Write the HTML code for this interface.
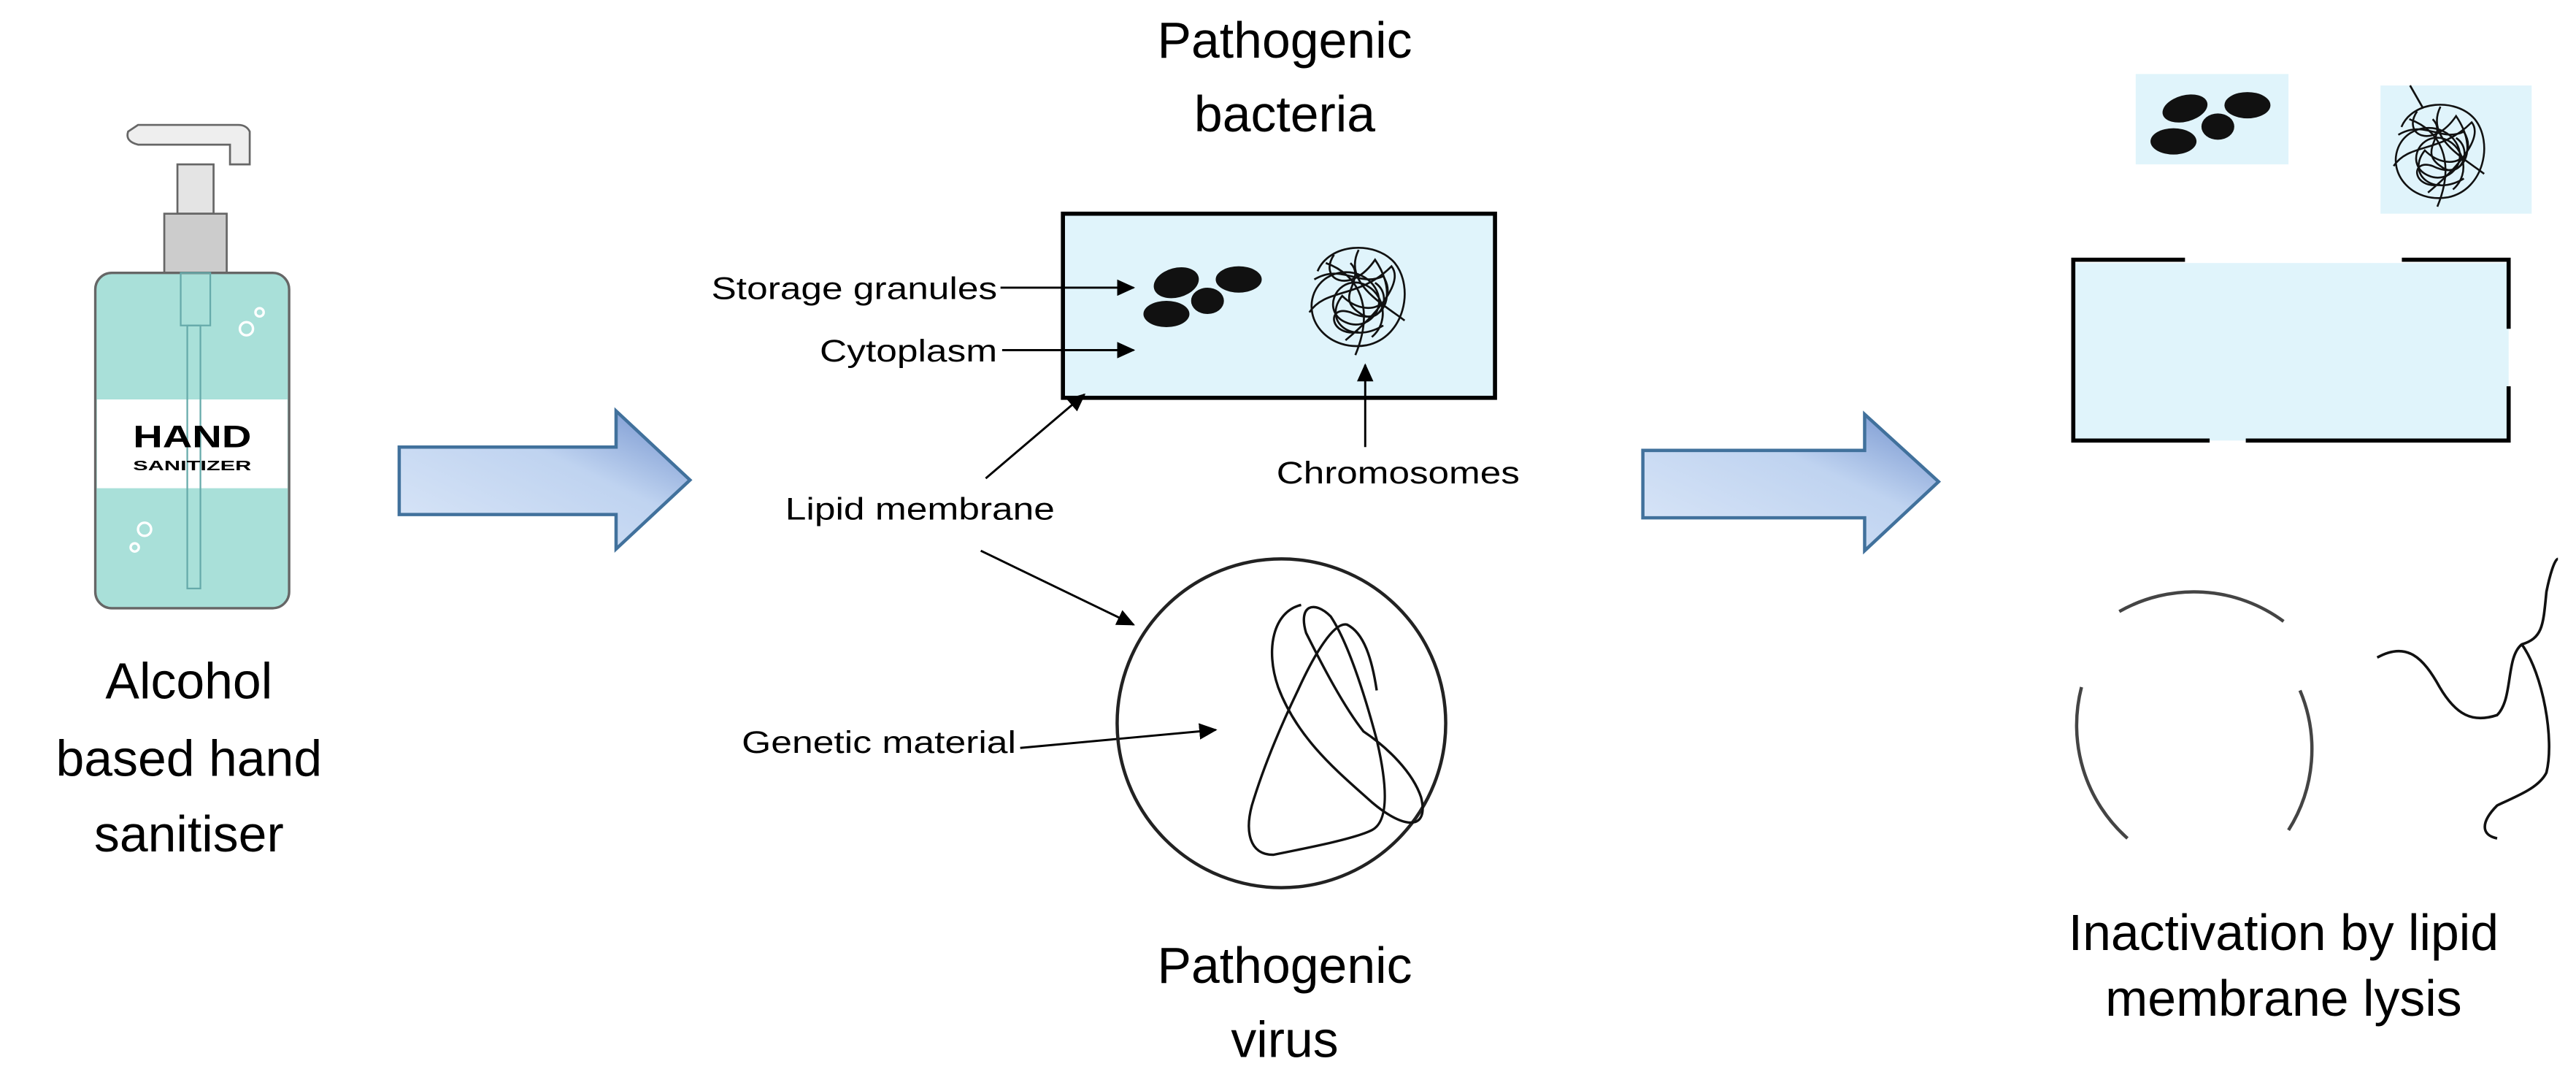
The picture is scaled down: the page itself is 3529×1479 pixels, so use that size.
<!DOCTYPE html>
<html><head><meta charset="utf-8"><style>
html,body{margin:0;padding:0;background:#fff;}
svg{display:block;}
text{font-family:"Liberation Sans",Arial,sans-serif;fill:#000;}
</style></head><body>
<svg width="3529" height="1479" viewBox="0 0 1568 657" preserveAspectRatio="none" xmlns="http://www.w3.org/2000/svg">
<defs>
<linearGradient id="ag" x1="0" y1="1" x2="1" y2="0">
<stop offset="0" stop-color="#dbe7f8"/><stop offset="0.6" stop-color="#bfd3f0"/><stop offset="1" stop-color="#6f8fcc"/>
</linearGradient>
<marker id="ah" markerWidth="11" markerHeight="10" refX="10" refY="5" orient="auto" markerUnits="userSpaceOnUse">
<path d="M0,0 L11,5 L0,10 Z" fill="#000"/></marker>
<g id="tangle" fill="none" stroke="#111" stroke-width="1.2">
<path d="M5,15 C12,-2 40,-4 52,10 C64,25 58,55 35,60 C12,64 -4,45 3,28 C10,12 32,12 40,25 C48,38 35,52 22,46 C8,40 15,20 30,22 C45,25 50,45 38,55"/>
<path d="M0,40 C10,25 30,32 50,12 C58,22 40,42 22,57 M30,2 C20,22 45,35 58,45 M10,10 C30,17 40,37 28,66 M15,5 C5,20 25,30 40,8 C55,30 45,50 25,40 C10,35 12,55 30,52"/>
<path d="M3,20 C20,10 30,25 45,18 C55,35 35,45 20,30 C8,45 25,60 45,48 M25,10 C35,20 15,30 30,40 C42,50 52,30 40,22"/>
</g>
</defs>

<!-- Bottle -->
<path d="M78,80 Q76,86 84,88 L140,88 L140,100 L152,100 L152,80 Q150,76 145,76 L84,76 Z" fill="#eee" stroke="#666" stroke-width="1.2"/>
<rect x="108" y="100" width="22" height="30" fill="#e4e4e4" stroke="#666" stroke-width="1.2"/>
<rect x="100" y="130" width="38" height="36" fill="#ccc" stroke="#666" stroke-width="1.2"/>
<rect x="58" y="166" width="118" height="204" rx="10" fill="#a9e0d9" stroke="#666" stroke-width="1.5"/>
<rect x="59" y="243" width="116" height="54" fill="#fff"/>
<rect x="110" y="166" width="18" height="32" fill="none" stroke="#6aa" stroke-width="1"/>
<rect x="114" y="198" width="8" height="160" fill="none" stroke="#6aa" stroke-width="1"/>
<text x="117" y="272" font-size="19" font-weight="bold" text-anchor="middle" fill="#333" textLength="72" lengthAdjust="spacingAndGlyphs">HAND</text>
<text x="117" y="286" font-size="8" font-weight="bold" text-anchor="middle" fill="#333" textLength="72" lengthAdjust="spacingAndGlyphs">SANITIZER</text>
<circle cx="150" cy="200" r="4" fill="none" stroke="#fff" stroke-width="1.5"/>
<circle cx="158" cy="190" r="2.5" fill="none" stroke="#fff" stroke-width="1.5"/>
<circle cx="88" cy="322" r="4" fill="none" stroke="#fff" stroke-width="1.5"/>
<circle cx="82" cy="333" r="2.5" fill="none" stroke="#fff" stroke-width="1.5"/>

<g font-size="31" text-anchor="middle">
<text x="115" y="425">Alcohol</text>
<text x="115" y="472">based hand</text>
<text x="115" y="518">sanitiser</text>
</g>

<!-- Arrows -->
<path d="M243,272 L375,272 L375,250 L420,292 L375,334 L375,313 L243,313 Z" fill="url(#ag)" stroke="#41719c" stroke-width="2"/>
<path d="M1000,274 L1135,274 L1135,252 L1180,293 L1135,335 L1135,315 L1000,315 Z" fill="url(#ag)" stroke="#41719c" stroke-width="2"/>

<!-- Middle titles -->
<g font-size="31" text-anchor="middle">
<text x="782" y="35">Pathogenic</text>
<text x="782" y="80">bacteria</text>
<text x="782" y="598">Pathogenic</text>
<text x="782" y="643">virus</text>
</g>

<!-- Bacteria rect -->
<rect x="647" y="130" width="263" height="112" fill="#e0f4fb" stroke="#000" stroke-width="2.5"/>
<g fill="#111">
<ellipse cx="716" cy="172" rx="14" ry="9" transform="rotate(-15 716 172)"/>
<ellipse cx="754" cy="170" rx="14" ry="8"/>
<ellipse cx="735" cy="183" rx="10" ry="8"/>
<ellipse cx="710" cy="191" rx="14" ry="8"/>
</g>
<use href="#tangle" x="797" y="150"/>

<g font-size="19">
<text x="607" y="182" text-anchor="end" textLength="174" lengthAdjust="spacingAndGlyphs">Storage granules</text>
<text x="607" y="220" text-anchor="end" textLength="108" lengthAdjust="spacingAndGlyphs">Cytoplasm</text>
<text x="851" y="294" text-anchor="middle" textLength="148" lengthAdjust="spacingAndGlyphs">Chromosomes</text>
<text x="560" y="316" text-anchor="middle" textLength="164" lengthAdjust="spacingAndGlyphs">Lipid membrane</text>
<text x="535" y="458" text-anchor="middle" textLength="167" lengthAdjust="spacingAndGlyphs">Genetic material</text>
</g>
<g stroke="#000" stroke-width="1.3" marker-end="url(#ah)">
<line x1="609" y1="175" x2="690" y2="175"/>
<line x1="610" y1="213" x2="690" y2="213"/>
<line x1="831" y1="272" x2="831" y2="222"/>
<line x1="600" y1="291" x2="660" y2="240"/>
<line x1="597" y1="335" x2="690" y2="380"/>
<line x1="621" y1="455" x2="740" y2="444"/>
</g>

<!-- Virus -->
<circle cx="780" cy="440" r="100" fill="none" stroke="#222" stroke-width="2"/>
<path d="M792,368 C775,372 770,395 778,418 C790,450 815,470 835,488 C855,505 870,505 865,485 C860,470 845,455 830,445 C818,430 805,405 795,385 C790,368 800,365 810,375 C820,390 830,420 838,450 C845,480 845,500 835,505 C825,510 800,515 775,520 C760,520 758,505 762,490 C768,470 778,445 790,420 C800,398 812,378 820,380 C830,385 835,400 838,420"
 fill="none" stroke="#111" stroke-width="1.5"/>

<!-- Right side -->
<rect x="1300" y="45" width="93" height="55" fill="#e0f4fb"/>
<g fill="#111">
<ellipse cx="1330" cy="66" rx="14" ry="8" transform="rotate(-15 1330 66)"/>
<ellipse cx="1368" cy="64" rx="14" ry="8"/>
<ellipse cx="1350" cy="77" rx="10" ry="8"/>
<ellipse cx="1323" cy="86" rx="14" ry="8"/>
</g>
<rect x="1449" y="52" width="92" height="78" fill="#e0f4fb"/>
<line x1="1467" y1="52" x2="1475" y2="66" stroke="#111" stroke-width="1.2"/>
<use href="#tangle" x="1457" y="63" transform="translate(1457 63) scale(0.95) translate(-1457 -63)"/>

<rect x="1262" y="160" width="265" height="108" fill="#e0f4fb"/>
<g stroke="#000" stroke-width="2.5" fill="none">
<polyline points="1330,158 1262,158 1262,268 1345,268"/>
<polyline points="1367,268 1527,268 1527,235"/>
<polyline points="1462,158 1527,158 1527,200"/>
</g>

<g fill="none" stroke="#444" stroke-width="2">
<path d="M1290,372 A92,92 0 0 1 1390,378"/>
<path d="M1267,418 A92,92 0 0 0 1295,510"/>
<path d="M1393,505 A92,92 0 0 0 1400,420"/>
</g>
<path d="M1447,400 C1465,390 1475,400 1485,418 C1495,435 1505,440 1520,435 C1530,425 1525,400 1535,392 C1548,388 1548,380 1550,360 C1552,350 1555,340 1557,340 M1535,392 C1548,410 1555,450 1550,470 C1545,480 1530,485 1520,490 C1510,500 1510,508 1520,510"
 fill="none" stroke="#111" stroke-width="1.6"/>

<g font-size="31" text-anchor="middle">
<text x="1390" y="578">Inactivation by lipid</text>
<text x="1390" y="618">membrane lysis</text>
</g>
</svg>
</body></html>
